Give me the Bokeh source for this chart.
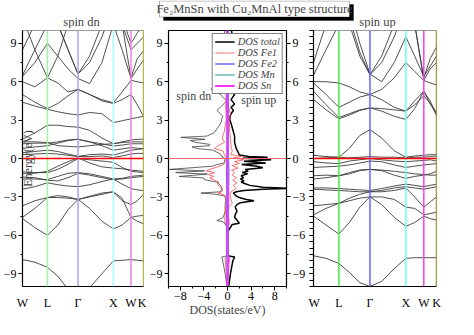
import math
from bokeh.plotting import figure
from bokeh.models import (Range1d, Span, Label, BoxAnnotation, LinearAxis, FixedTicker,
                          SingleIntervalTicker, Legend, LegendItem)
from bokeh.layouts import column, row
from bokeh.embed import file_html
from bokeh.resources import INLINE

FONT = "Liberation Serif"

# ---------------- data ----------------
K_LABELS = ["W", "L", "Γ", "X", "W", "K"]
K_SYM = [0.0, 0.707, 1.573, 2.573, 3.073, 3.427]
K_PTS = [0.0, 0.35, 0.707, 1.0, 1.29, 1.573, 1.9, 2.25, 2.573, 2.82, 3.073, 3.25, 3.427]

BANDS_DN = [
    [-7.9, -8.1, -8.5, -9.2, -10.2, -10.6, -10.1, -9.0, -8.0, -7.95, -7.9, -7.95, -8.0],
    [-4.7, -5.4, -6.0, -5.2, -4.0, -3.2, -3.9, -4.9, -5.5, -5.2, -4.6, -4.9, -5.1],
    [-4.6, -3.9, -3.05, -3.05, -3.1, -3.2, -3.0, -2.8, -2.6, -3.1, -4.6, -4.5, -4.45],
    [-3.7, -3.3, -3.05, -2.9, -3.0, -3.2, -2.95, -2.7, -2.6, -3.3, -3.6, -3.3, -2.8],
    [-2.4, -2.2, -1.9, -2.05, -2.15, -2.2, -2.05, -1.8, -1.6, -2.0, -2.35, -2.45, -2.5],
    [-1.6, -1.6, -1.65, -1.4, -1.15, -1.1, -1.2, -1.4, -1.6, -1.55, -1.4, -1.35, -1.3],
    [-1.45, -1.5, -1.7, -1.75, -1.5, -1.15, -1.3, -1.5, -1.65, -1.6, -1.5, -1.45, -1.4],
    [-1.2, -1.15, -1.0, -0.6, -0.25, 0.05, -0.35, -0.65, -0.75, -0.8, -0.9, -0.95, -1.0],
    [-1.05, -1.1, -1.1, -0.85, -0.45, 0.0, -0.1, -0.2, -0.3, -0.7, -1.0, -1.05, -1.1],
    [0.3, 0.35, 0.4, 0.35, 0.25, 0.15, 0.15, 0.2, 0.07, 0.2, 0.35, 0.4, 0.4],
    [0.45, 0.55, 0.65, 0.55, 0.35, 0.17, 0.3, 0.35, 0.27, 0.45, 0.65, 0.7, 0.77],
    [0.8, 0.9, 1.0, 1.2, 1.4, 1.5, 1.3, 1.0, 0.65, 0.75, 0.85, 0.8, 0.77],
    [1.15, 1.2, 1.2, 1.3, 1.45, 1.5, 1.3, 1.15, 0.97, 1.05, 1.15, 1.15, 1.15],
    [1.3, 1.3, 1.25, 1.0, 0.95, 0.9, 1.0, 1.1, 1.15, 1.25, 1.3, 1.3, 1.3],
    [1.5, 2.0, 2.6, 2.6, 2.5, 2.45, 2.2, 1.6, 1.15, 1.3, 1.45, 1.5, 1.5],
    [4.4, 4.1, 3.85, 3.65, 3.5, 3.4, 3.6, 3.5, 2.8, 2.95, 3.1, 3.2, 3.3],
    [5.0, 4.4, 3.9, 4.3, 4.9, 5.4, 5.0, 4.5, 4.3, 4.6, 5.0, 4.2, 3.3],
    [6.0, 5.6, 6.3, 5.9, 5.2, 5.4, 5.0, 4.6, 4.35, 5.2, 6.1, 6.0, 5.9],
    [6.4, 7.5, 9.0, 8.0, 7.0, 6.25, 5.85, 7.5, 10.5, 8.5, 6.25, 7.0, 7.7],
    [6.5, 8.5, 10.5, 10.5, 8.5, 6.6, 8.0, 10.5, 12.0, 10.5, 6.3, 7.8, 8.4],
    [8.5, 10.5, 12.0, 10.5, 8.5, 6.6, 7.5, 9.5, 12.0, 11.0, 9.0, 9.8, 10.5],
    [11.0, 8.5, 6.3, 8.0, 10.5, 12.0, 12.0, 12.0, 12.0, 10.5, 8.5, 9.0, 9.5],
]

BANDS_UP = [
    [-7.6, -7.8, -8.2, -8.9, -9.7, -10.0, -9.6, -8.6, -7.8, -7.75, -7.75, -7.75, -7.75],
    [-4.5, -5.2, -5.9, -5.0, -3.8, -3.0, -3.6, -4.6, -5.3, -5.0, -4.5, -4.7, -4.8],
    [-4.4, -3.9, -3.5, -3.3, -3.1, -3.0, -3.0, -3.2, -3.8, -3.9, -4.4, -4.3, -4.2],
    [-3.7, -3.6, -3.5, -3.1, -2.8, -2.6, -2.6, -2.5, -2.3, -3.0, -3.8, -3.4, -3.0],
    [-2.4, -2.45, -2.5, -2.55, -2.6, -2.6, -2.5, -2.3, -2.2, -2.3, -2.4, -2.3, -2.2],
    [-2.3, -2.3, -2.35, -2.4, -2.45, -2.5, -2.35, -2.15, -2.0, -2.1, -2.2, -2.1, -2.0],
    [-1.6, -1.5, -1.35, -1.1, -0.9, -0.85, -0.95, -1.3, -1.55, -1.4, -1.3, -1.2, -1.0],
    [-1.35, -1.3, -1.35, -1.2, -0.95, -0.85, -0.9, -1.0, -1.1, -1.2, -1.25, -1.3, -1.3],
    [-0.7, -0.65, -0.6, -0.5, -0.35, -0.2, -0.25, -0.5, -0.7, -0.6, -0.5, -0.45, -0.4],
    [-0.25, -0.35, -0.4, -0.2, -0.1, 0.0, -0.1, -0.2, -0.25, -0.2, -0.15, -0.1, -0.2],
    [0.0, 0.05, 0.1, 0.05, 0.1, 0.15, 0.1, 0.1, 0.05, 0.1, 0.1, 0.15, 0.2],
    [0.25, 0.15, 0.1, 0.8, 1.8, 2.25, 1.6, 0.6, 0.1, 0.2, 0.25, 0.3, 0.3],
    [5.25, 4.2, 3.2, 3.5, 3.8, 3.95, 3.7, 3.3, 3.05, 3.9, 5.25, 4.3, 3.4],
    [4.6, 3.8, 3.1, 3.4, 3.75, 3.95, 3.9, 3.8, 3.7, 4.2, 4.9, 4.3, 3.6],
    [5.9, 5.0, 4.0, 4.4, 4.8, 5.0, 4.6, 4.0, 3.7, 4.5, 5.25, 4.5, 3.4],
    [6.0, 6.0, 5.9, 5.6, 5.2, 5.0, 5.4, 6.3, 7.5, 6.8, 6.1, 5.9, 5.75],
    [6.5, 8.5, 10.5, 10.5, 8.0, 6.55, 7.5, 9.5, 12.0, 10.5, 6.1, 7.0, 7.5],
    [7.5, 10.5, 12.0, 11.0, 8.3, 6.55, 8.0, 10.5, 12.0, 10.5, 6.3, 7.8, 8.7],
    [10.5, 12.0, 12.0, 12.0, 9.0, 6.6, 6.0, 7.5, 9.5, 8.0, 6.4, 7.2, 8.0],
]

# DOS as (energy, DOS) pairs; spin dn drawn negative
DOS_TOTAL_UP = [
    (10, 0.7), (9.5, 0.8), (9, 0.75), (8.5, 0.9), (8, 0.7), (7.5, 0.85), (7, 0.75), (6.5, 0.9),
    (6, 0.9), (5.5, 1.45), (5.25, 0.6), (5, 1.2), (4.6, 0.6), (4.25, 1.2), (4, 0.6), (3.75, 1.0),
    (3.5, 0.6), (3.25, 0.4), (3, 0.4), (2.75, 0.6), (2.25, 0.9), (1.75, 1.2), (1.25, 1.2),
    (0.75, 1.5), (0.5, 1.8), (0.27, 2.0), (0.15, 3.6), (0.1, 6.8), (0.02, 2.5), (-0.1, 7.4),
    (-0.22, 2.8), (-0.35, 6.5), (-0.47, 2.4), (-0.6, 5.0), (-0.72, 6.0), (-0.85, 3.0), (-1.0, 3.5),
    (-1.1, 2.5), (-1.2, 3.4), (-1.35, 2.3), (-1.5, 2.7), (-1.6, 2.2), (-1.75, 2.8), (-1.84, 2.3),
    (-1.97, 3.0), (-2.1, 3.8), (-2.25, 6.0), (-2.34, 11.0), (-2.4, 6.0), (-2.5, 2.8), (-2.6, 1.5),
    (-2.7, 1.0), (-2.85, 1.3), (-2.96, 1.6), (-3.05, 2.0), (-3.2, 3.2), (-3.3, 4.5), (-3.45, 2.2),
    (-3.6, 1.6), (-3.8, 1.3), (-4.1, 1.6), (-4.4, 1.3), (-4.6, 1.2), (-4.8, 1.6), (-5.05, 2.0),
    (-5.15, 0.8), (-5.45, 0.4), (-5.7, 0.1), (-6.0, 0.0), (-7.6, 0.0), (-7.7, 1.2), (-8.0, 0.9),
    (-8.5, 0.7), (-9.0, 0.5), (-9.5, 0.35), (-10, 0.2),
]
DOS_TOTAL_DN = [
    (10, -0.4), (9.5, -0.8), (9, -0.7), (8.2, -0.9), (7.5, -0.8), (6.7, -0.9), (6.2, -1.2),
    (6.0, -1.6), (5.7, -2.2), (5.4, -2.8), (5.25, -2.3), (5.0, -1.2), (4.5, -0.15), (4.1, -1.0),
    (3.75, -1.8), (3.5, -1.2), (3.3, -0.8), (3.1, -1.0), (2.9, -1.0), (2.5, -1.5), (2.0, -2.3),
    (1.75, -3.5), (1.65, -7.9), (1.5, -3.8), (1.4, -6.3), (1.27, -5.5), (1.1, -3.0), (1.0, -3.1),
    (0.9, -6.0), (0.77, -5.0), (0.65, -2.5), (0.5, -1.8), (0.27, -1.0), (0.1, -0.9), (0.0, -0.4),
    (-0.22, -0.5), (-0.35, -0.5), (-0.47, -1.8), (-0.6, -2.5), (-0.85, -9.8), (-0.97, -3.9),
    (-1.1, -8.8), (-1.22, -3.4), (-1.4, -8.2), (-1.52, -4.0), (-1.66, -3.9), (-1.84, -1.8),
    (-2.1, -1.2), (-2.34, -0.9), (-2.6, -1.2), (-2.7, -4.5), (-2.8, -1.8), (-2.95, -0.4),
    (-3.3, -0.3), (-3.6, -0.4), (-4.1, -0.4), (-4.6, -0.7), (-4.85, -1.8), (-4.95, -0.7),
    (-5.3, -0.15), (-5.6, 0.0), (-7.6, 0.0), (-7.7, -1.0), (-7.8, -0.9), (-8.5, -0.6),
    (-9.0, -0.4), (-9.5, -0.25), (-10, -0.1),
]
DOS_FE1_UP = [
    (10, 0.1), (6, 0.15), (4, 0.2), (3.5, 0.5), (3, 0.3), (2, 0.4), (1.5, 0.5), (1.0, 0.6),
    (0.6, 0.8), (0.3, 0.6), (0.15, 2.3), (0.05, 1.0), (-0.1, 2.8), (-0.25, 1.2), (-0.4, 2.0),
    (-0.55, 0.8), (-0.75, 1.8), (-0.9, 0.7), (-1.1, 1.2), (-1.3, 0.8), (-1.5, 1.5), (-1.7, 0.9),
    (-1.9, 1.6), (-2.1, 1.0), (-2.34, 1.5), (-2.6, 0.6), (-2.8, 0.4), (-3.2, 0.6), (-3.5, 0.8),
    (-3.8, 0.2), (-4.5, 0.15), (-5.05, 0.3), (-5.6, 0.0), (-7.6, 0.0), (-7.8, 0.3), (-10, 0.05),
]
DOS_FE1_DN = [
    (10, -0.1), (6, -0.2), (4, -0.3), (3, -0.2), (2, -0.6), (1.6, -0.9), (1.27, -0.5),
    (1.0, -1.6), (0.77, -2.2), (0.6, -0.8), (0.3, -0.5), (0.1, -0.3), (0.0, -0.2), (-0.3, -0.5),
    (-0.5, -0.8), (-0.7, -2.0), (-0.85, -3.0), (-0.97, -3.6), (-1.1, -2.2), (-1.25, -3.2),
    (-1.4, -2.4), (-1.52, -3.0), (-1.7, -2.2), (-1.84, -1.5), (-2.0, -1.7), (-2.2, -1.4),
    (-2.45, -0.8), (-2.6, -1.0), (-2.7, -1.6), (-2.84, -0.6), (-3.0, -0.3), (-3.5, -0.2),
    (-4.85, -0.5), (-5.3, -0.1), (-5.6, 0.0), (-7.6, 0.0), (-7.8, -0.4), (-10, -0.05),
]
DOS_FE2 = [(10, -0.15), (6, -0.15), (3, -0.1), (0, -0.1), (-1, -0.15), (-3, -0.1),
           (-5, -0.15), (-7.8, -0.1), (-10, -0.05)]
DOS_MN = [(10, 0.2), (6, 0.2), (3, 0.15), (0, 0.2), (-1, 0.25), (-3, 0.2), (-5, 0.15),
          (-7.8, 0.2), (-10, 0.05)]
DOS_SN = [(10, 0.0), (5, 0.03), (0, 0.05), (-3, 0.08), (-7.6, 0.0), (-7.7, 0.2), (-8.0, 0.1),
          (-9.0, 0.05), (-10, 0.0)]

TITLE = "Fe₂MnSn with Cu₂MnAl type structure"

# ---------------- layout constants ----------------
TOP_H = 28
ROW_H = 319 - TOP_H
B_TOP = 2
B_BOT = 32


def style_axis(ax, size="12px"):
    ax.major_label_text_font = FONT
    ax.major_label_text_font_size = size
    ax.major_label_text_color = "black"
    ax.axis_line_color = "black"
    ax.axis_line_width = 1.2
    ax.major_tick_line_color = "black"
    ax.minor_tick_line_color = "black"
    ax.axis_label_text_font = FONT
    ax.axis_label_text_font_style = "normal"
    ax.axis_label_text_font_size = "12px"


def band_fig(width, bl, br, bands, colors, show_ylabels):
    p = figure(width=width, height=ROW_H, x_range=Range1d(0, K_SYM[-1]), y_range=Range1d(-10, 10),
               min_border_left=bl, min_border_right=br, min_border_top=B_TOP,
               min_border_bottom=B_BOT, toolbar_location=None, output_backend="svg")
    p.xgrid.visible = False
    p.ygrid.visible = False
    p.outline_line_color = "#9a9a9a"
    p.multi_line(xs=[K_PTS] * len(bands), ys=bands, line_color="#3c3c3c", line_width=0.9)
    for k, c in zip(K_SYM[1:], colors):
        p.add_layout(Span(location=k, dimension="height", line_color=c, line_width=1.5))
    p.add_layout(Span(location=0, dimension="width", line_color="#ff0000", line_width=1.6))
    xa = p.xaxis[0]
    xa.ticker = FixedTicker(ticks=K_SYM)
    xa.major_label_overrides = {k: s for k, s in zip(K_SYM, K_LABELS)}
    style_axis(xa)
    xa.major_tick_line_color = None
    xa.minor_tick_line_color = None
    xa.major_label_standoff = 3
    ya = p.yaxis[0]
    style_axis(ya)
    ya.major_tick_out = 4
    ya.major_tick_in = 0
    ya.minor_tick_out = 2
    ya.minor_tick_in = 0
    if show_ylabels:
        ya.ticker = SingleIntervalTicker(interval=3, num_minor_ticks=2)
        ya.major_label_standoff = 2
    else:
        ya.ticker = SingleIntervalTicker(interval=3, num_minor_ticks=6)
        ya.major_label_overrides = {v: "" for v in range(-9, 10, 3)}
        ya.major_label_standoff = 0
        ya.major_tick_out = 4
        ya.minor_tick_out = 4
    return p


left_colors = ["#a6f0a6", "#a4a4ff", "#a4ffff", "#ee80ee", "#c8c820"]
right_colors = ["#44ee44", "#6464ff", "#66ffff", "#ee44ee", "#a09a00"]

p_left = band_fig(146, 19, 3, BANDS_DN, left_colors, True)
p_left.add_layout(Label(x=5, x_units="screen", y=0, y_units="data", text="Energy(eV)",
                        angle=90, angle_units="deg", text_align="center", text_baseline="middle",
                        text_font=FONT, text_font_size="12px"))

p_right = band_fig(150, 5, 22, BANDS_UP, right_colors, False)

# ---------------- DOS panel ----------------
pm = figure(width=162, height=ROW_H, x_range=Range1d(-10, 10), y_range=Range1d(-10, 10),
            min_border_left=21, min_border_right=18, min_border_top=B_TOP, min_border_bottom=B_BOT,
            toolbar_location=None, output_backend="svg")
pm.xgrid.visible = False
pm.ygrid.visible = False
pm.outline_line_color = "black"


def unzip(pairs):
    return [d for e, d in pairs], [e for e, d in pairs]


x, y = unzip(DOS_TOTAL_DN)
pm.line(x, y, line_color="#404040", line_width=0.8)
x, y = unzip(DOS_TOTAL_UP)
r_tot = pm.line(x, y, line_color="black", line_width=1.5)
x, y = unzip(DOS_FE1_DN)
pm.line(x, y, line_color="#ff4a4a", line_width=0.8)
x, y = unzip(DOS_FE1_UP)
r_fe1 = pm.line(x, y, line_color="#ff4a4a", line_width=0.8)
x, y = unzip(DOS_FE2)
r_fe2 = pm.line(x, y, line_color="#6a6aff", line_width=1.4)
x, y = unzip(DOS_MN)
r_mn = pm.line(x, y, line_color="#1a9a9a", line_width=1.0)
x, y = unzip(DOS_SN)
r_sn = pm.line(x, y, line_color="#ff33ff", line_width=2.0)
pm.add_layout(Span(location=0, dimension="width", line_color="#ff6a6a", line_width=1.0))

xa = pm.xaxis[0]
xa.ticker = SingleIntervalTicker(interval=4, num_minor_ticks=2)
style_axis(xa)
xa.major_tick_out = 4
xa.major_tick_in = 0
xa.minor_tick_out = 2
xa.minor_tick_in = 0
xa.major_label_standoff = 1
xa.axis_label = "DOS(states/eV)"
xa.axis_label_standoff = 0

ya = pm.yaxis[0]
ya.ticker = SingleIntervalTicker(interval=3, num_minor_ticks=2)
style_axis(ya)
ya.major_tick_out = 4
ya.major_tick_in = 0
ya.minor_tick_out = 2
ya.minor_tick_in = 0
ya.major_label_standoff = 2

ra = LinearAxis(ticker=SingleIntervalTicker(interval=3, num_minor_ticks=2))
style_axis(ra)
ra.major_tick_out = 4
ra.major_tick_in = 0
ra.minor_tick_out = 2
ra.minor_tick_in = 0
ra.major_label_standoff = 2
pm.add_layout(ra, "right")

pm.add_layout(Label(x=-5.7, y=4.9, text="spin dn", text_align="center", text_baseline="middle",
                    text_font=FONT, text_font_size="12px"))
pm.add_layout(Label(x=5.3, y=4.6, text="spin up", text_align="center", text_baseline="middle",
                    text_font=FONT, text_font_size="12px"))

legend = Legend(items=[LegendItem(label="DOS total", renderers=[r_tot]),
                       LegendItem(label="DOS Fe1", renderers=[r_fe1]),
                       LegendItem(label="DOS Fe2", renderers=[r_fe2]),
                       LegendItem(label="DOS Mn", renderers=[r_mn]),
                       LegendItem(label="DOS Sn", renderers=[r_sn])],
                location="top_right")
legend.label_text_font = FONT
legend.label_text_font_style = "italic"
legend.label_text_font_size = "10.5px"
legend.label_height = 9
legend.glyph_height = 9
legend.glyph_width = 20
legend.label_standoff = 3
legend.spacing = 0
legend.padding = 2
legend.margin = 3
legend.border_line_color = "black"
legend.border_line_width = 1
legend.background_fill_alpha = 1.0
pm.add_layout(legend)

# ---------------- title strip ----------------
pt = figure(width=458, height=TOP_H, x_range=Range1d(0, 458), y_range=Range1d(TOP_H, 0),
            min_border=0, toolbar_location=None, output_backend="svg")
pt.axis.visible = False
pt.xgrid.visible = False
pt.ygrid.visible = False
pt.outline_line_color = None
pt.add_layout(BoxAnnotation(left=163, right=353, top=4, bottom=20, fill_color="black",
                            fill_alpha=1, line_color="black"))
pt.add_layout(BoxAnnotation(left=159, right=349, top=0.5, bottom=16.5, fill_color="white",
                            fill_alpha=1, line_color="black", line_width=1))
pt.add_layout(Label(x=254, y=8.5, text=TITLE, text_align="center", text_baseline="middle",
                    text_font=FONT, text_font_size="12.5px"))
pt.add_layout(Label(x=81, y=21, text="spin dn", text_align="center", text_baseline="middle",
                    text_font=FONT, text_font_size="12.5px"))
pt.add_layout(Label(x=377, y=21.5, text="spin up", text_align="center", text_baseline="middle",
                    text_font=FONT, text_font_size="12.5px"))

layout = column(pt, row(p_left, pm, p_right))

open("out.html", "w").write(file_html(layout, INLINE))
